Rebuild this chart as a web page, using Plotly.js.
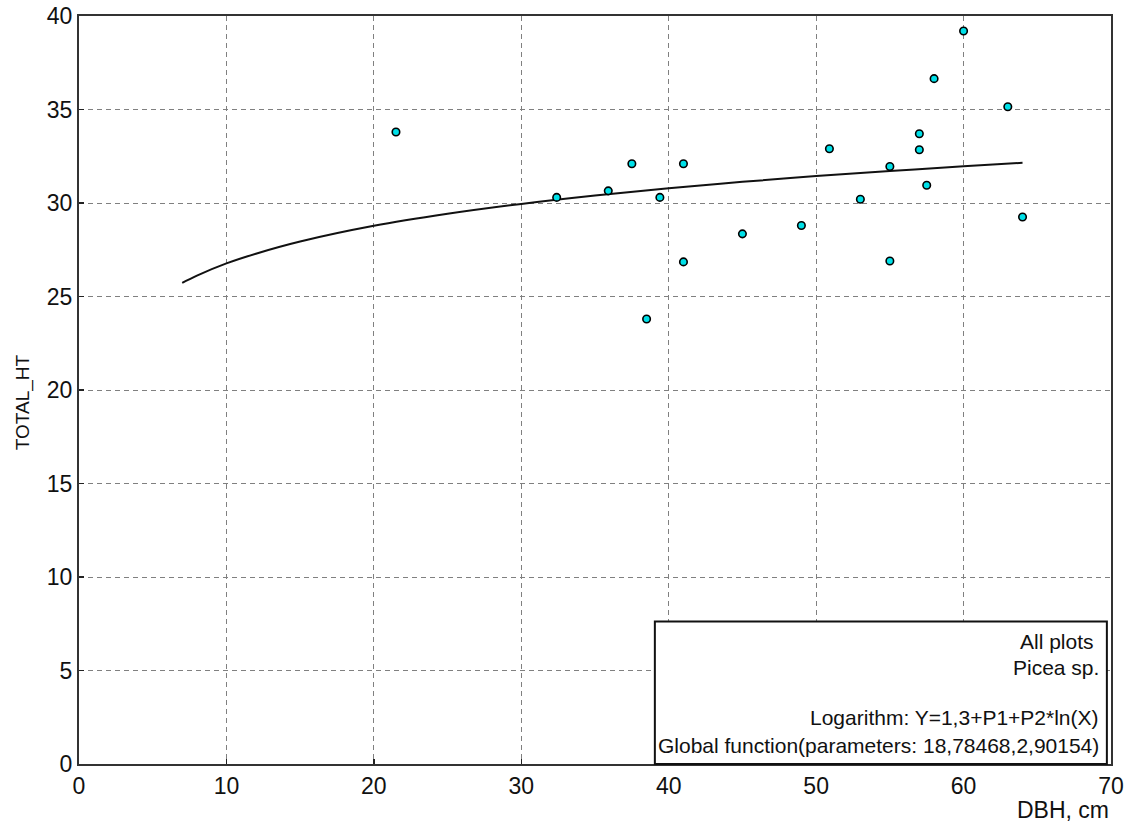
<!DOCTYPE html>
<html>
<head>
<meta charset="utf-8">
<script src="https://cdn.plot.ly/plotly-3.0.1.min.js"></script>
<style>html,body{margin:0;padding:0;background:#fff;}#chart{width:1129px;height:825px;}</style>
</head>
<body>
<div id="chart"></div>
<script>
// Observed trees: DBH (cm) and total height (m)
const dbh = [21.5, 32.4, 35.9, 37.5, 38.5, 39.4, 41.0, 41.0, 45.0, 49.0, 50.9, 53.0, 55.0, 55.0, 57.0, 57.0, 57.5, 58.0, 60.0, 63.0, 64.0];
const totalHt = [33.8, 30.3, 30.65, 32.1, 23.8, 30.3, 32.1, 26.85, 28.35, 28.8, 32.9, 30.2, 31.95, 26.9, 33.7, 32.85, 30.95, 36.65, 39.2, 35.15, 29.25];

// Fitted curve
const curveX = [7, 8, 10, 12, 15, 20, 25, 30, 35, 40, 45, 50, 55, 60, 64];
const curveY = [25.73, 26.12, 26.77, 27.29, 27.94, 28.78, 29.42, 29.95, 30.40, 30.79, 31.13, 31.44, 31.71, 31.96, 32.15];

const xTicks = [0, 10, 20, 30, 40, 50, 60, 70];
const yTicks = [0, 5, 10, 15, 20, 25, 30, 35, 40];

const infoLines = ["All plots", "Picea sp.", "Logarithm: Y=1,3+P1+P2*ln(X)", "Global function(parameters: 18,78468,2,90154)"];
const xTitle = "DBH, cm";
const yTitle = "TOTAL_HT";

const FONT = "Liberation Sans, Arial, sans-serif";

const traces = [
  {
    x: curveX, y: curveY, type: 'scatter', mode: 'lines',
    line: {color: '#111', width: 2, shape: 'spline'},
    hoverinfo: 'skip', showlegend: false
  },
  {
    x: dbh, y: totalHt, type: 'scatter', mode: 'markers',
    marker: {color: '#00e0e8', size: 7.5, line: {color: '#000', width: 1.6}},
    showlegend: false
  }
];

const gridCommon = {
  showgrid: true, gridcolor: '#808080', gridwidth: 1, griddash: '5px,4px',
  zeroline: false, showline: true, mirror: true, linecolor: '#333', linewidth: 2,
  ticks: 'inside', ticklen: 5, tickcolor: '#222', tickwidth: 1.5,
  tickfont: {family: FONT, size: 23, color: '#111'}
};

const layout = {
  width: 1129, height: 825,
  margin: {l: 79, r: 18, t: 16, b: 61},
  paper_bgcolor: '#fff', plot_bgcolor: '#fff',
  font: {family: FONT},
  xaxis: Object.assign({}, gridCommon, {
    range: [0, 70], tickmode: 'array', tickvals: xTicks, ticktext: xTicks.map(String),
    title: {text: ''}
  }),
  yaxis: Object.assign({}, gridCommon, {
    range: [0, 40], tickmode: 'array', tickvals: yTicks, ticktext: yTicks.map(String),
    title: {text: ''}
  }),
  shapes: [
    {type: 'rect', xref: 'paper', yref: 'paper', x0: 0.558, x1: 0.996, y0: 0, y1: 0.1906,
     line: {color: '#111', width: 2}, fillcolor: '#fff', layer: 'above'}
  ],
  annotations: [
    {text: infoLines[0], xref: 'paper', yref: 'paper', x: 0.990, y: 0.1632, xanchor: 'right', yanchor: 'middle', xshift: -5, showarrow: false, font: {family: FONT, size: 21, color: '#111'}},
    {text: infoLines[1], xref: 'paper', yref: 'paper', x: 0.990, y: 0.1284, xanchor: 'right', yanchor: 'middle', showarrow: false, font: {family: FONT, size: 21, color: '#111'}},
    {text: infoLines[2], xref: 'paper', yref: 'paper', x: 0.990, y: 0.0615, xanchor: 'right', yanchor: 'middle', showarrow: false, font: {family: FONT, size: 21, color: '#111'}},
    {text: infoLines[3], xref: 'paper', yref: 'paper', x: 0.990, y: 0.0254, xanchor: 'right', yanchor: 'middle', showarrow: false, font: {family: FONT, size: 21, color: '#111'}},
    {text: xTitle, xref: 'paper', yref: 'paper', x: 1.0, y: -0.062, xanchor: 'right', yanchor: 'middle', showarrow: false, font: {family: FONT, size: 23, color: '#111'}},
    {text: yTitle, xref: 'paper', yref: 'paper', x: -0.0547, y: 0.483, xanchor: 'center', yanchor: 'middle', textangle: -90, showarrow: false, font: {family: FONT, size: 19, color: '#111'}}
  ]
};

Plotly.newPlot('chart', traces, layout, {displayModeBar: false, staticPlot: true});
</script>
</body>
</html>
